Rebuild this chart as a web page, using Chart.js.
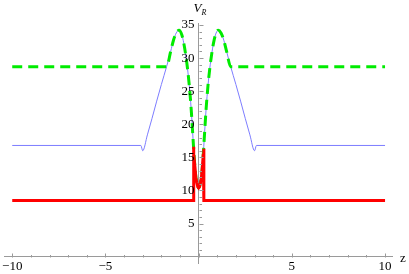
<!DOCTYPE html>
<html>
<head>
<meta charset="utf-8">
<script src="https://cdn.jsdelivr.net/npm/chart.js@4"></script>
<style>
  html, body { margin: 0; padding: 0; background: #fff; }
</style>
</head>
<body>
<canvas id="myChart" width="409" height="274"></canvas>
<script>
// thin blue curve
const blueZ = [-10, -3.1, -3.0, -2.75, -2.5, -2.25, -2.0, -1.72, -1.5, -1.35, -1.2, -1.05, -0.9, -0.8, -0.7, -0.6, -0.5, -0.4,
  -0.3, -0.25, -0.2, -0.15, -0.1, -0.05, 0, 0.05, 0.1, 0.15, 0.2, 0.25, 0.3,
  0.4, 0.5, 0.6, 0.7, 0.8, 0.9, 1.05, 1.2, 1.35, 1.5, 1.72, 2.0, 2.25, 2.5, 2.75, 3.0, 3.1, 10];
const blueV = [16.8, 16.8, 16.0, 18.4, 20.9, 23.5, 26.0, 28.7, 31.0, 32.7, 33.8, 34.2, 33.5, 32.3, 30.6, 28.5, 25.8, 22.3,
  17.8, 15.5, 13.6, 12.0, 11.2, 10.6, 10.4, 10.6, 11.2, 12.0, 13.6, 15.5, 17.8,
  22.3, 25.8, 28.5, 30.6, 32.3, 33.5, 34.2, 33.8, 32.7, 31.0, 28.7, 26.0, 23.5, 20.9, 18.4, 16.0, 16.8, 16.8];

// green dashed curve
const greenZ = [-10, -1.72, -1.5, -1.35, -1.2, -1.05, -0.9, -0.8, -0.7, -0.6, -0.5, -0.4,
  -0.3, -0.25, -0.2, -0.15, -0.1, -0.05, 0, 0.05, 0.1, 0.15, 0.2, 0.25, 0.3,
  0.4, 0.5, 0.6, 0.7, 0.8, 0.9, 1.05, 1.2, 1.35, 1.5, 1.72, 10];
const greenV = [28.7, 28.7, 31.0, 32.7, 33.8, 34.2, 33.5, 32.3, 30.6, 28.5, 25.8, 22.3,
  17.8, 15.5, 13.6, 12.0, 11.2, 10.6, 10.4, 10.6, 11.2, 12.0, 13.6, 15.5, 17.8,
  22.3, 25.8, 28.5, 30.6, 32.3, 33.5, 34.2, 33.8, 32.7, 31.0, 28.7, 28.7];

// thick red curve
const redZ = [-10, -0.28, -0.28, -0.25, -0.2, -0.15, -0.1, -0.05, 0, 0.05, 0.1, 0.15, 0.2, 0.25, 0.28, 0.28, 10];
const redV = [8.5, 8.5, 16.6, 15.5, 13.6, 12.0, 11.2, 10.6, 10.4, 10.6, 11.2, 12.0, 13.6, 15.5, 16.3, 8.5, 8.5];

const xTicks = [-10, -5, 5, 10];
const yTicks = [5, 10, 15, 20, 25, 30, 35];

const toPoints = (zs, vs) => zs.map((z, i) => ({ x: z, y: vs[i] }));

const serif = 'Liberation Serif';

const axisDecor = {
  id: 'axisDecor',
  afterDraw(chart) {
    const { ctx, scales: { x, y } } = chart;
    const x0 = Math.round(x.getPixelForValue(0)) + 0.5;
    const y0 = Math.round(y.getPixelForValue(0)) + 0.5;
    ctx.save();
    ctx.strokeStyle = '#9a9a9a';
    ctx.lineWidth = 1;
    ctx.beginPath();
    for (let v = -10; v <= 10; v++) {
      const px = Math.round(x.getPixelForValue(v)) + 0.5;
      const len = v % 5 === 0 ? 4 : 2.5;
      ctx.moveTo(px, y0);
      ctx.lineTo(px, y0 - len);
    }
    for (let v = 1; v <= 35; v++) {
      const py = Math.round(y.getPixelForValue(v)) + 0.5;
      const len = v % 5 === 0 ? 4 : 2.5;
      ctx.moveTo(x0, py);
      ctx.lineTo(x0 + len, py);
    }
    ctx.stroke();

    ctx.fillStyle = '#000';
    ctx.font = `13px "${serif}"`;
    ctx.textAlign = 'right';
    ctx.textBaseline = 'middle';
    yTicks.forEach(v => ctx.fillText(String(v), x0 - 5, y.getPixelForValue(v)));

    ctx.textAlign = 'center';
    ctx.fillText('z', 403, y0 + 1);

    ctx.font = `italic 13px "${serif}"`;
    ctx.fillText('V', x0 - 2, 9);
    ctx.font = `italic 8px "${serif}"`;
    ctx.textAlign = 'left';
    ctx.fillText('R', x0 + 2, 13);
    ctx.restore();
  }
};

new Chart(document.getElementById('myChart'), {
  type: 'line',
  data: {
    datasets: [
      {
        label: 'red',
        data: toPoints(redZ, redV),
        borderColor: 'rgb(255,0,0)',
        borderWidth: 3,
        pointRadius: 0,
        tension: 0,
        fill: false
      },
      {
        label: 'green',
        data: toPoints(greenZ, greenV),
        borderColor: 'rgb(0,235,0)',
        borderWidth: 3,
        borderDash: [10, 6],
        pointRadius: 0,
        cubicInterpolationMode: 'monotone',
        fill: false
      },
      {
        label: 'blue',
        data: toPoints(blueZ, blueV),
        borderColor: 'rgb(125,125,255)',
        borderWidth: 1,
        pointRadius: 0,
        cubicInterpolationMode: 'monotone',
        fill: false
      }
    ]
  },
  options: {
    responsive: false,
    animation: false,
    layout: { padding: { left: 3.5, right: 16.5, top: 23, bottom: 10.7 } },
    plugins: { legend: { display: false }, tooltip: { enabled: false } },
    scales: {
      x: {
        type: 'linear',
        min: -10.4,
        max: 10.4,
        position: { y: 0 },
        border: { display: true, color: '#9a9a9a', width: 1 },
        grid: { display: false, drawTicks: false },
        afterBuildTicks: axis => { axis.ticks = xTicks.map(v => ({ value: v })); },
        ticks: {
          autoSkip: false,
          maxRotation: 0,
          padding: 2,
          color: '#000',
          font: { family: serif, size: 13 },
          callback: v => (v < 0 ? '\u2212' + (-v) : String(v))
        }
      },
      y: {
        type: 'linear',
        min: -1,
        max: 35.3,
        position: { x: 0 },
        border: { display: true, color: '#9a9a9a', width: 1 },
        grid: { display: false, drawTicks: false },
        ticks: { display: false }
      }
    }
  },
  plugins: [axisDecor]
});
</script>
</body>
</html>
